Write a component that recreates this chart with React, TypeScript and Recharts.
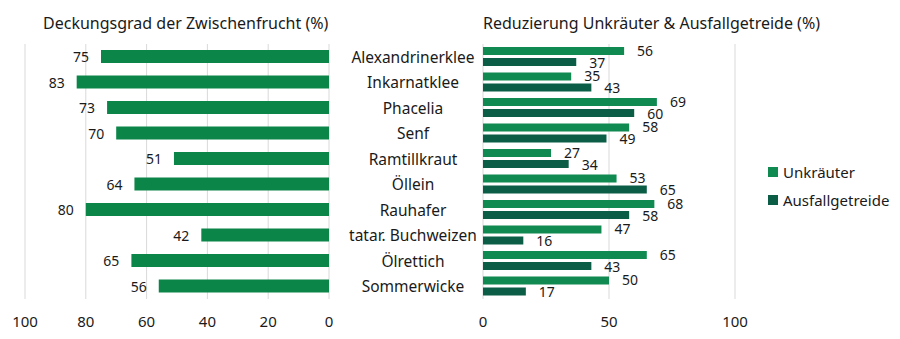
import { BarChart, Bar, XAxis, YAxis, CartesianGrid, LabelList } from "recharts";

const CATEGORIES = [
  "Alexandrinerklee",
  "Inkarnatklee",
  "Phacelia",
  "Senf",
  "Ramtillkraut",
  "Öllein",
  "Rauhafer",
  "tatar. Buchweizen",
  "Ölrettich",
  "Sommerwicke",
];
const DECKUNGSGRAD = [75, 83, 73, 70, 51, 64, 80, 42, 65, 56];
const UNKRAEUTER = [56, 35, 69, 58, 27, 53, 68, 47, 65, 50];
const AUSFALLGETREIDE = [37, 43, 60, 49, 34, 65, 58, 16, 43, 17];
const LEFT_TICKS = [0, 20, 40, 60, 80, 100];
const RIGHT_TICKS = [0, 50, 100];
const SERIES = [
  { key: "unkraut", label: "Unkräuter", color: "#108a50" },
  { key: "ausfall", label: "Ausfallgetreide", color: "#0b5e45" },
];

const FONT = "'Noto Sans', sans-serif";
const TEXT = "#1a1a1a";
const GREEN = "#0c8548";
const GRID = "#d9d9d9";

const data = CATEGORIES.map((name, i) => ({
  name,
  deckung: DECKUNGSGRAD[i],
  unkraut: UNKRAEUTER[i],
  ausfall: AUSFALLGETREIDE[i],
}));

function leftLabel(props: any) {
  const { x, y, width, height, value } = props;
  const left = Math.min(x, x + width);
  return (
    <text x={left - 12} y={y + height / 2} textAnchor="end" dominantBaseline="central" fontSize={14} fill={TEXT} fontFamily={FONT}>
      {value}
    </text>
  );
}

function rightLabel(dy: number) {
  return (props: any) => {
    const { x, y, width, height, value } = props;
    return (
      <text x={x + width + 13} y={y + height / 2 + dy} textAnchor="start" dominantBaseline="central" fontSize={14} fill={TEXT} fontFamily={FONT}>
        {value}
      </text>
    );
  };
}

function CategoryTick(props: any) {
  const { x, y, payload } = props;
  return (
    <text x={x + 76} y={y} textAnchor="middle" dominantBaseline="central" fontSize={15.5} fill={TEXT} fontFamily={FONT}>
      {payload.value}
    </text>
  );
}

const axisTick = { fontSize: 15, fill: TEXT, fontFamily: FONT };

export default function App() {
  return (
    <div style={{ position: "absolute", left: 0, top: 0, width: 900, height: 339, background: "#fff", fontFamily: FONT }}>
      <div style={{ position: "absolute", left: 43, top: 12, fontSize: 16, color: TEXT }}>
        Deckungsgrad der Zwischenfrucht (%)
      </div>
      <div style={{ position: "absolute", left: 483, top: 12, fontSize: 16, color: TEXT }}>
        Reduzierung Unkräuter &amp; Ausfallgetreide (%)
      </div>

      <div style={{ position: "absolute", left: 0, top: 0 }}>
        <BarChart width={480} height={339} data={data} layout="vertical" margin={{ top: 44, right: 30, bottom: 0, left: 25 }} barSize={13}>
          <CartesianGrid horizontal={false} stroke={GRID} />
          <XAxis
            type="number"
            domain={[0, 100]}
            ticks={LEFT_TICKS}
            reversed
            axisLine={false}
            tickLine={false}
            tick={axisTick}
            tickMargin={11}
            height={40}
            interval={0}
          />
          <YAxis
            type="category"
            dataKey="name"
            orientation="right"
            width={121}
            axisLine={false}
            tickLine={false}
            tick={<CategoryTick />}
            interval={0}
          />
          <Bar dataKey="deckung" fill={GREEN} isAnimationActive={false}>
            <LabelList dataKey="deckung" content={leftLabel} />
          </Bar>
        </BarChart>
      </div>

      <div style={{ position: "absolute", left: 450, top: 0 }}>
        <BarChart width={450} height={339} data={data} layout="vertical" margin={{ top: 44, right: 165, bottom: 0, left: 33 }} barSize={8} barGap={3}>
          <CartesianGrid horizontal={false} stroke={GRID} />
          <XAxis
            type="number"
            domain={[0, 100]}
            ticks={RIGHT_TICKS}
            axisLine={false}
            tickLine={false}
            tick={axisTick}
            tickMargin={11}
            height={40}
            interval={0}
          />
          <YAxis type="category" dataKey="name" hide />
          {SERIES.map((s, i) => (
            <Bar key={s.key} dataKey={s.key} name={s.label} fill={s.color} isAnimationActive={false}>
              <LabelList dataKey={s.key} content={rightLabel(i === 0 ? -1 : 0)} />
            </Bar>
          ))}
        </BarChart>
      </div>

      <div style={{ position: "absolute", left: 768, top: 158, fontSize: 15, color: TEXT }}>
        {SERIES.map((s) => (
          <div key={s.key} style={{ display: "flex", alignItems: "center", height: 28 }}>
            <span style={{ width: 10, height: 10, background: s.color, marginRight: 5, display: "inline-block" }} />
            {s.label}
          </div>
        ))}
      </div>
    </div>
  );
}
